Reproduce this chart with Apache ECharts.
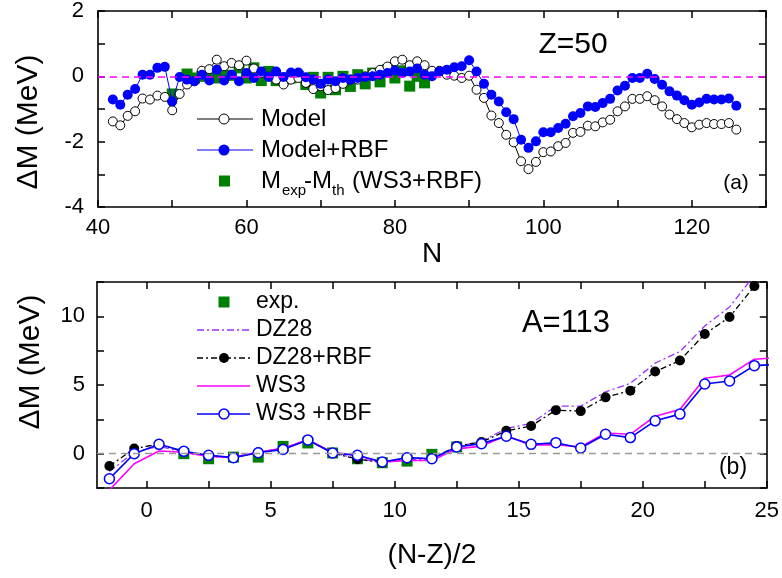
<!DOCTYPE html>
<html><head><meta charset="utf-8">
<script src="https://cdn.jsdelivr.net/npm/echarts@6/dist/echarts.min.js"></script>
<style>html,body{margin:0;padding:0;background:#fff}#c{width:782px;height:578px}</style>
</head><body><div id="c"></div>
<script>
// ---------- Panel (a): Z = 50 ----------
const nStart = 42; // neutron number of first model point (one point per N)
const modelVals = [
  -1.38,-1.50,-1.21,-1.07,-0.68,-0.71,-0.59,-0.63,-1.04,-0.54,
  -0.25,-0.15,0.17,0.22,0.51,0.31,0.41,0.34,0.48,0.24,
  0.10,0.00,-0.10,-0.25,-0.10,-0.05,-0.20,-0.39,-0.30,-0.42,
  -0.36,-0.23,-0.10,-0.10,0.00,0.10,0.20,0.30,0.46,0.51,
  0.34,0.46,0.34,0.17,0.17,0.05,0.02,-0.05,0.02,-0.41,
  -0.66,-1.20,-1.43,-1.79,-2.02,-2.60,-2.84,-2.62,-2.32,-2.30,
  -2.14,-2.04,-1.73,-1.70,-1.51,-1.53,-1.41,-1.33,-1.07,-0.92,
  -0.69,-0.69,-0.61,-0.73,-0.92,-1.17,-1.31,-1.43,-1.56,-1.48,
  -1.43,-1.46,-1.46,-1.43,-1.63];
const modelRbfVals = [
  -0.71,-0.87,-0.56,-0.39,0.05,0.05,0.26,0.29,-0.77,-0.02,
  -0.10,-0.15,0.05,-0.13,0.20,-0.13,0.05,-0.15,0.10,-0.05,
  0.15,-0.02,0.15,-0.02,0.12,0.12,-0.03,-0.10,-0.23,-0.10,
  -0.15,-0.05,-0.10,-0.05,-0.02,0.00,0.05,0.10,0.18,0.10,
  0.15,0.24,0.05,0.00,0.15,0.20,0.28,0.31,0.49,0.15,
  -0.23,-0.56,-0.77,-1.10,-1.31,-1.94,-2.19,-1.99,-1.71,-1.71,
  -1.58,-1.45,-1.22,-1.12,-0.92,-0.94,-0.82,-0.69,-0.43,-0.29,
  -0.05,-0.05,0.08,-0.08,-0.26,-0.46,-0.59,-0.73,-0.87,-0.80,
  -0.69,-0.71,-0.71,-0.68,-0.90];
const expN = [50,52,53,54,55,56,57,58,59,60,61,62,63,64,65,66,67,68,69,70,71,72,73,74,75,76,77,78,79,80,81,82,83,84];
const expVals = [-0.54,0.07,-0.05,0.00,0.07,-0.05,0.03,0.03,0.26,-0.05,0.26,-0.13,0.15,-0.13,-0.10,-0.05,0.00,-0.25,-0.03,-0.51,-0.03,-0.41,0.00,-0.31,0.05,-0.23,0.10,-0.17,0.20,-0.05,0.17,-0.30,0.00,-0.20];

// ---------- Panel (b): A = 113 ----------
const bx = [-1.5,-0.5,0.5,1.5,2.5,3.5,4.5,5.5,6.5,7.5,8.5,9.5,10.5,11.5,12.5,13.5,14.5,15.5,16.5,17.5,18.5,19.5,20.5,21.5,22.5,23.5,24.5,25.5];
const dz28 = [-1.3,0.1,0.55,0.1,-0.2,-0.3,0.1,0.4,1.0,0.05,-0.35,-0.65,-0.45,-0.4,0.5,0.9,1.83,2.2,3.46,3.46,4.5,5.12,6.59,7.44,9.3,10.68,13.0,15.0];
const dz28Rbf = [-0.9,0.37,0.7,0.15,-0.15,-0.3,0.1,0.35,1.0,0.05,-0.4,-0.65,-0.35,-0.35,0.55,0.85,1.66,2.02,3.17,3.10,4.10,4.59,5.98,6.78,8.71,9.95,12.2,14.5];
const ws3 = [-2.65,-0.73,0.19,0.1,-0.2,-0.25,0.1,0.4,1.0,0.1,-0.15,-0.6,-0.5,-0.5,0.35,0.55,1.3,0.61,0.66,0.49,1.51,1.41,2.73,3.22,5.49,5.73,6.88,7.0];
const ws3Rbf = [-1.83,0.0,0.68,0.17,-0.12,-0.29,0.07,0.31,1.0,0.05,-0.12,-0.61,-0.29,-0.37,0.49,0.73,1.27,0.68,0.80,0.41,1.41,1.17,2.39,2.88,5.07,5.29,6.41,6.5];
const expBx = [1.5,2.5,3.5,4.5,5.5,6.5,7.5,8.5,9.5,10.5,11.5,12.5];
const expB = [0.0,-0.37,-0.25,-0.25,0.53,0.78,0.05,-0.37,-0.66,-0.54,-0.05,0.49];

// tick labels
const topXLabels = [40,60,80,100,120];
const topYLabels = [-4,-2,0,2];
const botXLabels = [0,5,10,15,20,25];
const botXTicks = [0,2.5,5,7.5,10,12.5,15,17.5,20,22.5,25];
const botYLabels = [0,5,10];

const FONT = 'Liberation Sans, Arial, Helvetica, sans-serif';
const pairs = (xs, ys) => ys.map((v, i) => [xs[i], v]);
const modelN = modelVals.map((_, i) => nStart + i);

const axLine = {onZero:false, lineStyle:{color:'#000', width:1.6}};
const axTick = {inside:true, length:7, lineStyle:{color:'#000', width:1.5}};
const lbl = {color:'#000', fontSize:22, fontFamily:FONT};

const chart = echarts.init(document.getElementById('c'), null, {renderer:'canvas'});
chart.setOption({
  animation:false,
  backgroundColor:'#fff',
  grid:[
    {left:98, top:11, width:668, height:196},
    {left:97, top:282, width:670, height:206}
  ],
  xAxis:[
    {gridIndex:0, type:'value', min:40, max:130, interval:10, position:'bottom',
     axisLine:axLine, axisTick:axTick, splitLine:{show:false},
     axisLabel:Object.assign({margin:10, formatter:v => topXLabels.includes(v) ? String(v) : ''}, lbl),
     name:'N', nameLocation:'middle', nameGap:30, nameTextStyle:{fontSize:28, color:'#000', fontFamily:FONT}},
    {gridIndex:0, type:'value', min:40, max:130, interval:10, position:'top',
     axisLine:axLine, axisTick:axTick, splitLine:{show:false}, axisLabel:{show:false}},
    {gridIndex:1, type:'value', min:-2, max:25, position:'bottom',
     axisLine:axLine, axisTick:Object.assign({customValues:botXTicks}, axTick), splitLine:{show:false},
     axisLabel:Object.assign({margin:12, customValues:botXLabels}, lbl),
     name:'(N-Z)/2', nameLocation:'middle', nameGap:53, nameTextStyle:{fontSize:28, color:'#000', fontFamily:FONT}},
    {gridIndex:1, type:'value', min:-2, max:25, position:'top',
     axisLine:axLine, axisTick:Object.assign({customValues:botXTicks}, axTick), splitLine:{show:false}, axisLabel:{show:false}}
  ],
  yAxis:[
    {gridIndex:0, type:'value', min:-4, max:2, interval:1, position:'left',
     axisLine:axLine, axisTick:axTick, splitLine:{show:false},
     axisLabel:Object.assign({margin:14, formatter:v => topYLabels.includes(v) ? String(v) : ''}, lbl)},
    {gridIndex:0, type:'value', min:-4, max:2, interval:1, position:'right',
     axisLine:axLine, axisTick:axTick, splitLine:{show:false}, axisLabel:{show:false}},
    {gridIndex:1, type:'value', min:-2.5, max:12.5, interval:2.5, position:'left',
     axisLine:axLine, axisTick:axTick, splitLine:{show:false},
     axisLabel:Object.assign({margin:12, formatter:v => botYLabels.includes(v) ? String(v) : ''}, lbl)},
    {gridIndex:1, type:'value', min:-2.5, max:12.5, interval:2.5, position:'right',
     axisLine:axLine, axisTick:axTick, splitLine:{show:false}, axisLabel:{show:false}}
  ],
  series:[
    {name:'Model', type:'line', xAxisIndex:0, yAxisIndex:0, data:pairs(modelN, modelVals),
     symbol:'circle', symbolSize:9, showAllSymbol:true,
     itemStyle:{color:'#fff', borderColor:'#000', borderWidth:1},
     lineStyle:{color:'#000', width:1},
     markLine:{silent:true, symbol:'none', label:{show:false},
       lineStyle:{color:'#ff00ff', type:[7,5], width:1.5}, data:[{yAxis:0}]}},
    {name:'Model+RBF', type:'line', xAxisIndex:0, yAxisIndex:0, data:pairs(modelN, modelRbfVals),
     symbol:'circle', symbolSize:10, showAllSymbol:true,
     itemStyle:{color:'#0000ff'}, lineStyle:{color:'#0000ff', width:1}},
    {name:'Mexp-Mth (WS3+RBF)', type:'scatter', xAxisIndex:0, yAxisIndex:0, data:pairs(expN, expVals),
     symbol:'rect', symbolSize:11, itemStyle:{color:'#008000', opacity:1}},

    {name:'exp.', type:'scatter', xAxisIndex:2, yAxisIndex:2, data:pairs(expBx, expB),
     symbol:'rect', symbolSize:11, itemStyle:{color:'#008000', opacity:1},
     markLine:{silent:true, symbol:'none', label:{show:false},
       lineStyle:{color:'#999', type:[7,5], width:1.3}, data:[{yAxis:0}]}},
    {name:'DZ28', type:'line', xAxisIndex:2, yAxisIndex:2, data:pairs(bx, dz28),
     showSymbol:false, lineStyle:{color:'#9a32ff', width:1.3, type:[7,3,2,3]}},
    {name:'DZ28+RBF', type:'line', xAxisIndex:2, yAxisIndex:2, data:pairs(bx, dz28Rbf),
     symbol:'circle', symbolSize:10, showAllSymbol:true,
     itemStyle:{color:'#000'}, lineStyle:{color:'#000', width:1.3, type:[6,3,2,3]}},
    {name:'WS3', type:'line', xAxisIndex:2, yAxisIndex:2, data:pairs(bx, ws3),
     showSymbol:false, lineStyle:{color:'#ff00ff', width:1.6}},
    {name:'WS3 +RBF', type:'line', xAxisIndex:2, yAxisIndex:2, data:pairs(bx, ws3Rbf),
     symbol:'circle', symbolSize:10, showAllSymbol:true,
     itemStyle:{color:'#fff', borderColor:'#0000ff', borderWidth:1.5},
     lineStyle:{color:'#0000ff', width:1.6}}
  ],
  graphic:[
    // y-axis titles
    {type:'text', x:29, y:122, rotation:Math.PI/2,
     style:{text:'ΔM (MeV)', fontSize:30, fontFamily:FONT, fill:'#000', align:'center', verticalAlign:'middle'}},
    {type:'text', x:31, y:362, rotation:Math.PI/2,
     style:{text:'ΔM (MeV)', fontSize:30, fontFamily:FONT, fill:'#000', align:'center', verticalAlign:'middle'}},
    // panel labels
    {type:'text', x:573, y:45, style:{text:'Z=50', fontSize:30, fontFamily:FONT, fill:'#000', align:'center', verticalAlign:'middle'}},
    {type:'text', x:736, y:183, style:{text:'(a)', fontSize:21, fontFamily:FONT, fill:'#000', align:'center', verticalAlign:'middle'}},
    {type:'text', x:566, y:323, style:{text:'A=113', fontSize:31, fontFamily:FONT, fill:'#000', align:'center', verticalAlign:'middle'}},
    {type:'text', x:733, y:468, style:{text:'(b)', fontSize:23, fontFamily:FONT, fill:'#000', align:'center', verticalAlign:'middle'}},
    // legend (a)
    {type:'line', shape:{x1:197,y1:119,x2:253,y2:119}, style:{stroke:'#000', lineWidth:1}},
    {type:'circle', shape:{cx:224,cy:119,r:5}, style:{fill:'#fff', stroke:'#000', lineWidth:1}},
    {type:'text', x:261, y:119, style:{text:'Model', fontSize:24, fontFamily:FONT, fill:'#000', verticalAlign:'middle'}},
    {type:'line', shape:{x1:197,y1:150,x2:253,y2:150}, style:{stroke:'#0000ff', lineWidth:1}},
    {type:'circle', shape:{cx:224,cy:150,r:5.5}, style:{fill:'#0000ff'}},
    {type:'text', x:261, y:150, style:{text:'Model+RBF', fontSize:24, fontFamily:FONT, fill:'#000', verticalAlign:'middle'}},
    {type:'rect', shape:{x:219,y:175.5,width:11,height:11}, style:{fill:'#008000'}},
    {type:'text', x:261, y:181, style:{text:'M', fontSize:24, fontFamily:FONT, fill:'#000', verticalAlign:'middle'}},
    {type:'text', x:282, y:191, style:{text:'exp', fontSize:15, fontFamily:FONT, fill:'#000', verticalAlign:'middle'}},
    {type:'text', x:304, y:181, style:{text:'-M', fontSize:24, fontFamily:FONT, fill:'#000', verticalAlign:'middle'}},
    {type:'text', x:332, y:191, style:{text:'th', fontSize:15, fontFamily:FONT, fill:'#000', verticalAlign:'middle'}},
    {type:'text', x:352, y:181, style:{text:'(WS3+RBF)', fontSize:24, fontFamily:FONT, fill:'#000', verticalAlign:'middle'}},
    // legend (b)
    {type:'rect', shape:{x:218.5,y:296.5,width:11,height:11}, style:{fill:'#008000'}},
    {type:'text', x:256, y:302, style:{text:'exp.', fontSize:23, fontFamily:FONT, fill:'#000', verticalAlign:'middle'}},
    {type:'line', shape:{x1:197,y1:330,x2:250,y2:330}, style:{stroke:'#9a32ff', lineWidth:1.3, lineDash:[7,3,2,3]}},
    {type:'text', x:256, y:330, style:{text:'DZ28', fontSize:23, fontFamily:FONT, fill:'#000', verticalAlign:'middle'}},
    {type:'line', shape:{x1:197,y1:358,x2:250,y2:358}, style:{stroke:'#000', lineWidth:1.3, lineDash:[6,3,2,3]}},
    {type:'circle', shape:{cx:224,cy:358,r:5}, style:{fill:'#000'}},
    {type:'text', x:256, y:358, style:{text:'DZ28+RBF', fontSize:23, fontFamily:FONT, fill:'#000', verticalAlign:'middle'}},
    {type:'line', shape:{x1:197,y1:386,x2:250,y2:386}, style:{stroke:'#ff00ff', lineWidth:1.6}},
    {type:'text', x:256, y:386, style:{text:'WS3', fontSize:23, fontFamily:FONT, fill:'#000', verticalAlign:'middle'}},
    {type:'line', shape:{x1:197,y1:414,x2:250,y2:414}, style:{stroke:'#0000ff', lineWidth:1.6}},
    {type:'circle', shape:{cx:224,cy:414,r:5}, style:{fill:'#fff', stroke:'#0000ff', lineWidth:1.5}},
    {type:'text', x:256, y:414, style:{text:'WS3 +RBF', fontSize:23, fontFamily:FONT, fill:'#000', verticalAlign:'middle'}}
  ]
});
</script>
</body></html>
